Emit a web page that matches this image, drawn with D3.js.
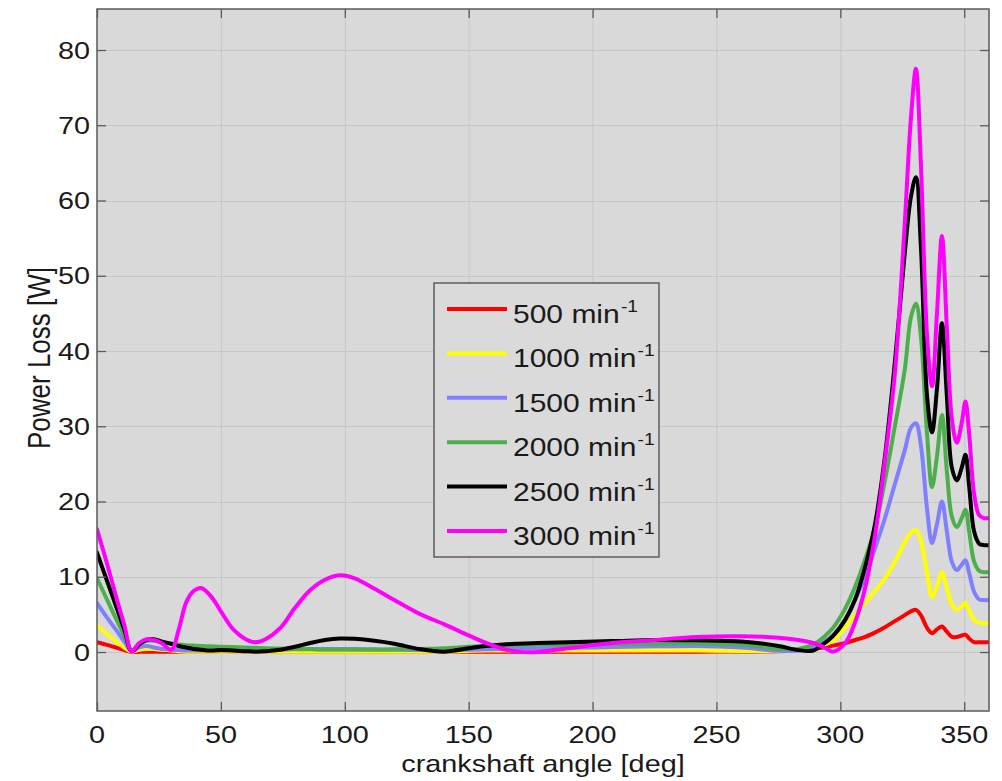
<!DOCTYPE html>
<html>
<head>
<meta charset="utf-8">
<script src="https://cdn.jsdelivr.net/npm/d3@7"></script>
<style>
  html, body { margin: 0; padding: 0; background: #ffffff; }
  svg { display: block; }
  text { font-family: "Liberation Sans", Arial, sans-serif; fill: #1a1a1a; }
</style>
</head>
<body>
<svg id="chart" width="1002" height="781"></svg>
<script>
// crankshaft angle grid shared by all speed curves [deg]
const angles = [0, 4, 8, 11, 14, 17, 20, 23, 26, 30, 33, 36, 39, 42, 46, 50, 55, 60, 64, 68,
  74, 80, 86, 92, 98, 104, 112, 120, 130, 140, 150, 157, 164, 170, 178, 190, 208, 225, 242, 260,
  275, 283, 289, 293, 297, 302, 306, 310, 314, 318, 322, 326, 328.5, 330.5, 332.5, 335, 337, 339, 341, 343,
  345, 347, 349, 350.5, 352, 354, 356, 358, 360];

// power loss [W] per engine speed
const loss500 = [1.3, 0.95, 0.55, 0.25, 0.0, 0.02, 0.02, 0.02, 0.02, 0.02, 0.02, 0.02, 0.02, 0.02, 0.02, 0.02, 0.02, 0.02, 0.02, 0.02,
  0.02, 0.02, 0.02, 0.02, 0.02, 0.02, 0.02, 0.02, 0.02, 0.02, 0.02, 0.02, 0.02, 0.02, 0.02, 0.02, 0.03, 0.04, 0.05, 0.06,
  0.1, 0.3, 0.45, 0.6, 0.85, 1.2, 1.6, 2.0, 2.6, 3.3, 4.1, 4.9, 5.4, 5.6, 4.9, 3.2, 2.5, 3.0, 3.4, 2.7,
  2.0, 2.0, 2.2, 2.3, 1.8, 1.3, 1.3, 1.3, 1.3];

const loss1000 = [3.5, 2.4, 1.3, 0.6, 0.05, 0.3, 0.4, 0.4, 0.3, 0.2, 0.1, 0.05, 0.05, 0.05, 0.05, 0.05, 0.05, 0.05, 0.05, 0.05,
  0.05, 0.05, 0.05, 0.05, 0.05, 0.05, 0.05, 0.05, 0.05, 0.05, 0.15, 0.2, 0.2, 0.2, 0.2, 0.2, 0.2, 0.2, 0.2, 0.15,
  0.1, 0.3, 0.5, 0.9, 1.5, 3.3, 5.0, 6.6, 8.1, 9.8, 12.0, 14.6, 15.9, 16.2, 14.8, 10.5, 7.3, 8.8, 10.6, 8.5,
  6.3, 5.6, 6.1, 6.5, 5.5, 4.3, 3.9, 3.8, 3.8];

const loss1500 = [6.5, 4.6, 2.8, 1.4, 0.1, 0.6, 0.8, 0.6, 0.4, 0.3, 0.25, 0.2, 0.2, 0.2, 0.2, 0.2, 0.2, 0.2, 0.2, 0.25,
  0.3, 0.35, 0.4, 0.4, 0.4, 0.4, 0.35, 0.3, 0.25, 0.25, 0.3, 0.35, 0.4, 0.45, 0.5, 0.55, 0.65, 0.75, 0.8, 0.6,
  0.15, 0.2, 0.7, 1.3, 2.2, 4.3, 7.0, 10.0, 13.8, 17.8, 22.3, 26.8, 29.8, 30.4, 27.5, 19.0, 14.5, 17.0, 20.0, 16.0,
  12.0, 10.9, 11.6, 12.2, 10.5, 8.0, 7.0, 6.9, 6.9];

const loss2000 = [9.8, 7.0, 4.2, 2.2, 0.1, 1.0, 1.5, 1.5, 1.3, 1.1, 1.0, 0.9, 0.85, 0.8, 0.75, 0.7, 0.65, 0.6, 0.55, 0.5,
  0.45, 0.4, 0.35, 0.3, 0.3, 0.3, 0.3, 0.35, 0.4, 0.5, 0.7, 0.8, 0.9, 0.95, 1.0, 1.0, 1.05, 1.1, 1.15, 1.0,
  0.4, 0.4, 1.0, 1.9, 3.2, 5.8, 8.7, 12.3, 16.5, 22.8, 30.0, 37.5, 44.5, 46.3, 42.0, 29.0, 21.9, 26.0, 31.5, 24.0,
  18.0, 16.6, 17.8, 18.9, 16.0, 12.0, 10.8, 10.6, 10.6];

const loss2500 = [13.2, 9.5, 5.8, 3.0, 0.1, 1.0, 1.6, 1.7, 1.4, 1.1, 0.8, 0.6, 0.4, 0.3, 0.2, 0.25, 0.2, 0.1, 0.05, 0.1,
  0.3, 0.7, 1.2, 1.6, 1.8, 1.75, 1.5, 1.1, 0.4, 0.05, 0.5, 0.8, 1.0, 1.1, 1.2, 1.3, 1.45, 1.6, 1.55, 1.4,
  0.8, 0.25, 0.2, 1.0, 2.1, 4.3, 7.0, 11.3, 17.0, 26.0, 38.5, 53.0, 60.5, 63.1, 54.0, 34.0, 29.2, 35.0, 43.7, 34.0,
  24.5, 22.8, 24.5, 26.2, 22.0, 16.0, 14.4, 14.2, 14.2];

const loss3000 = [16.3, 11.8, 7.0, 3.6, 0.1, 1.2, 1.7, 1.6, 1.2, 0.3, 3.0, 6.6, 8.1, 8.5, 7.4, 5.4, 3.0, 1.7, 1.3, 1.7,
  3.2, 5.9, 8.2, 9.6, 10.2, 9.8, 8.4, 6.9, 5.1, 3.7, 2.2, 1.2, 0.4, 0.05, 0.0, 0.5, 1.2, 1.6, 2.0, 2.1,
  1.9, 1.6, 1.2, 0.7, 0.05, 1.2, 4.0, 8.5, 15.5, 25.5, 37.0, 57.0, 71.0, 77.5, 65.0, 42.0, 35.3, 45.0, 55.3, 43.0,
  31.0, 27.8, 30.5, 33.3, 29.0, 21.0, 18.2, 17.8, 17.8];

const seriesNames = ["500", "1000", "1500", "2000", "2500", "3000"];
const seriesValues = [loss500, loss1000, loss1500, loss2000, loss2500, loss3000];
const seriesColors = ["#ff0000", "#ffff00", "#7f7fff", "#4dae4d", "#000000", "#ff00ff"];

const xTicks = [0, 50, 100, 150, 200, 250, 300, 350];
const yTicks = [0, 10, 20, 30, 40, 50, 60, 70, 80];

const xLabel = "crankshaft angle [deg]";
const yLabel = "Power Loss [W]";
const unitText = " min";
const unitExp = "-1";

// ---- layout ----
const plot = { left: 97, right: 989, top: 9, bottom: 711 };
const SX = 1.2;   // horizontal stretch of the lettering

const svg = d3.select("#chart");

const x = d3.scaleLinear().domain([0, 360]).range([plot.left, plot.right]);
const y = d3.scaleLinear().domain([-7.84, 85.45]).range([plot.bottom, plot.top]);

// plot background
svg.append("rect")
  .attr("x", plot.left).attr("y", plot.top)
  .attr("width", plot.right - plot.left).attr("height", plot.bottom - plot.top)
  .attr("fill", "#d9d9d9");

// grid
const grid = svg.append("g").attr("stroke", "#c6c6c6").attr("stroke-width", 1);
grid.selectAll("line.gx").data(xTicks.filter(d => d > 0)).join("line")
  .attr("x1", d => x(d) + 0.5).attr("x2", d => x(d) + 0.5)
  .attr("y1", plot.top).attr("y2", plot.bottom);
grid.selectAll("line.gy").data(yTicks).join("line")
  .attr("y1", d => Math.round(y(d)) + 0.5).attr("y2", d => Math.round(y(d)) + 0.5)
  .attr("x1", plot.left).attr("x2", plot.right);

// curves
svg.append("clipPath").attr("id", "plotClip")
  .append("rect")
  .attr("x", plot.left).attr("y", plot.top)
  .attr("width", plot.right - plot.left).attr("height", plot.bottom - plot.top);

const line = d3.line()
  .x((d, i) => x(angles[i]))
  .y(d => y(d))
  .curve(d3.curveCatmullRom.alpha(0.5));

svg.append("g").attr("clip-path", "url(#plotClip)")
  .selectAll("path").data(seriesValues).join("path")
  .attr("d", d => line(d))
  .attr("fill", "none")
  .attr("stroke", (d, i) => seriesColors[i])
  .attr("stroke-width", 4)
  .attr("stroke-linejoin", "round")
  .attr("stroke-linecap", "round");

// axes (ticks point inward on all four sides, labels bottom/left)
const tickLen = 9;
const axisColor = "#5a5a5a";
const bottomAxis = d3.axisBottom(x).tickValues(xTicks).tickSize(-tickLen).tickFormat("");
const topAxis = d3.axisTop(x).tickValues(xTicks).tickSize(-tickLen).tickFormat("");
const leftAxis = d3.axisLeft(y).tickValues(yTicks).tickSize(-tickLen).tickFormat("");
const rightAxis = d3.axisRight(y).tickValues(yTicks).tickSize(-tickLen).tickFormat("");

function styleAxis(g) {
  g.select(".domain").remove();
  g.selectAll(".tick line").attr("stroke", axisColor).attr("stroke-width", 1.3);
}
svg.append("g").attr("transform", `translate(0,${plot.bottom})`).call(bottomAxis).call(styleAxis);
svg.append("g").attr("transform", `translate(0,${plot.top})`).call(topAxis).call(styleAxis);
svg.append("g").attr("transform", `translate(${plot.left},0)`).call(leftAxis).call(styleAxis);
svg.append("g").attr("transform", `translate(${plot.right},0)`).call(rightAxis).call(styleAxis);

// frame
svg.append("rect")
  .attr("x", plot.left).attr("y", plot.top)
  .attr("width", plot.right - plot.left).attr("height", plot.bottom - plot.top)
  .attr("fill", "none").attr("stroke", axisColor).attr("stroke-width", 1.5);

// text helper with the horizontal stretch
function label(parent, px, py, str, size, anchor, extra) {
  return parent.append("text")
    .attr("transform", `translate(${px},${py}) scale(${SX},1)` + (extra || ""))
    .attr("text-anchor", anchor)
    .attr("font-size", size)
    .text(str);
}

// tick labels
xTicks.forEach(t => label(svg, x(t), 743, String(t), 24, "middle"));
yTicks.forEach(t => label(svg, 90, y(t) + 8.5, String(t), 24, "end"));

// axis titles
label(svg, 543, 772, xLabel, 24, "middle");
label(svg, 50, 358, yLabel, 26, "middle", " rotate(-90)");

// legend
const lg = { left: 434, top: 283, right: 659, bottom: 557 };
svg.append("rect")
  .attr("x", lg.left).attr("y", lg.top)
  .attr("width", lg.right - lg.left).attr("height", lg.bottom - lg.top)
  .attr("fill", "#dadada").attr("stroke", "#4a4a4a").attr("stroke-width", 1.3);

const rowY = d3.scalePoint().domain(seriesNames).range([309, 531]);
const legendRows = svg.append("g").selectAll("g").data(seriesNames).join("g");
legendRows.append("line")
  .attr("x1", 447).attr("x2", 507)
  .attr("y1", d => rowY(d)).attr("y2", d => rowY(d))
  .attr("stroke", (d, i) => seriesColors[i])
  .attr("stroke-width", 4);
legendRows.each(function (d) {
  const t = d3.select(this).append("text")
    .attr("transform", `translate(513,${rowY(d) + 14}) scale(${SX},1)`)
    .attr("font-size", 25);
  t.append("tspan").text(d + unitText);
  t.append("tspan").attr("font-size", 16).attr("dy", -11).attr("dx", 1).text(unitExp);
});
</script>
</body>
</html>
